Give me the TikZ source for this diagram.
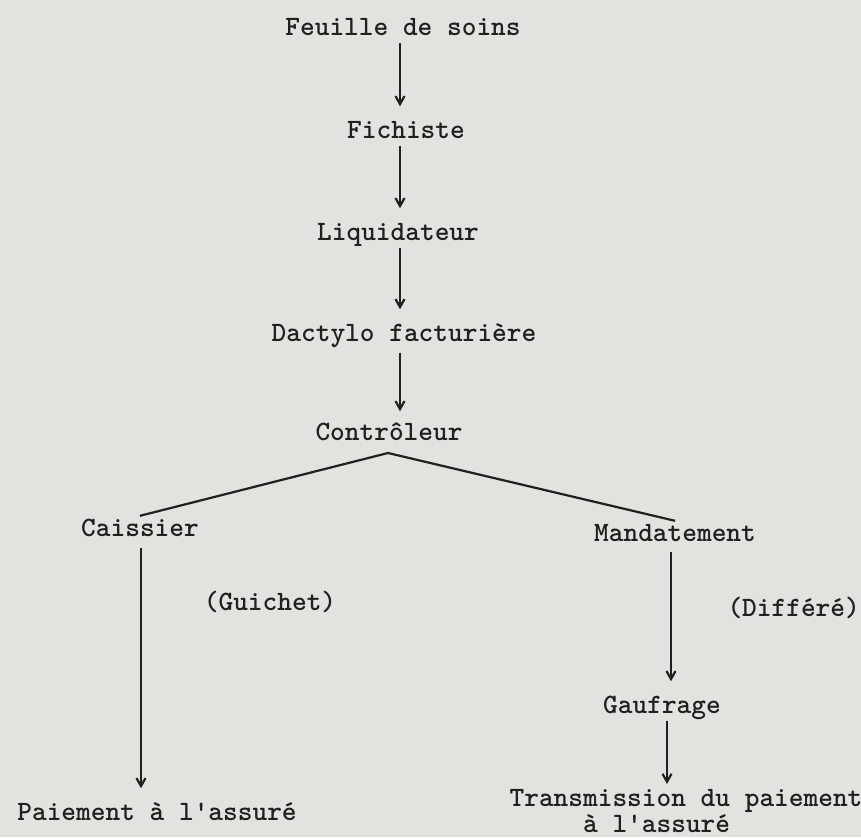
\documentclass[tikz,border=0pt]{standalone}
\usetikzlibrary{arrows.meta}
\definecolor{paper}{RGB}{226,226,223}
\definecolor{ink}{RGB}{32,32,32}
\begin{document}
\begin{tikzpicture}[x=1pt,y=-1pt,
  lbl/.style={font=\fontsize{28}{26}\selectfont\ttfamily\bfseries, text=ink, inner xsep=0pt, inner ysep=7pt},
  word/.style={lbl, text height=17pt, text depth=0pt},
  link/.style={draw=ink, line width=2.2pt},
  arr/.style={link, -{Straight Barb[length=8pt,width=9pt]}, shorten >=8pt}]
\fill[paper] (0,0) rectangle (861,837);
\useasboundingbox (0,0) rectangle (861,837);
% axes for the vertical connectors
\coordinate (axis) at (400,0);
\coordinate (laxis) at (141,0);
\coordinate (raxis) at (671,0);
\coordinate (gaxis) at (667,0);
\coordinate (apex) at (388,453);
% nodes
\node[word] (feuille) at (403,27) {Feuille de soins};
\node[word] (fichiste) at (406,130) {Fichiste};
\node[word] (liquid) at (398,232) {Liquidateur};
\node[word] (dactylo) at (404,333) {Dactylo facturière};
\node[word] (controle) at (389,432) {Contrôleur};
\node[word] (caissier) at (140,528) {Caissier};
\node[word] (mandat) at (675,533) {Mandatement};
\node[word] (guichet) at (270,602) {(Guichet)};
\node[word, anchor=east] (differe) at (860,608) {(Différé)};
\node[word] (gaufrage) at (662,705) {Gaufrage};
\node[word] (paiement) at (157,812) {Paiement à l'assuré};
\node[lbl, inner ysep=0pt, anchor=north, align=left] (transm) at (686,789) {Transmission du paiement\\\phantom{Trans}à l'assuré};
% connectors
\draw[arr] (feuille.south -| axis) -- (fichiste.north -| axis);
\draw[arr] (fichiste.south -| axis) -- (liquid.north -| axis);
\draw[arr] (liquid.south -| axis) -- (dactylo.north -| axis);
\draw[arr, shorten <=4pt, shorten >=5pt] (dactylo.south -| axis) -- (controle.north -| axis);
\draw[link] ([yshift=-3.5pt]caissier.north) -- (apex) -- ([yshift=-3.5pt]mandat.north);
\draw[arr, shorten <=4pt] (caissier.south -| laxis) -- (paiement.north -| laxis);
\draw[arr, shorten <=3.5pt] (mandat.south -| raxis) -- (gaufrage.north -| raxis);
\draw[arr, shorten >=5pt] (gaufrage.south -| gaxis) -- (transm.north -| gaxis);
\end{tikzpicture}
\end{document}
